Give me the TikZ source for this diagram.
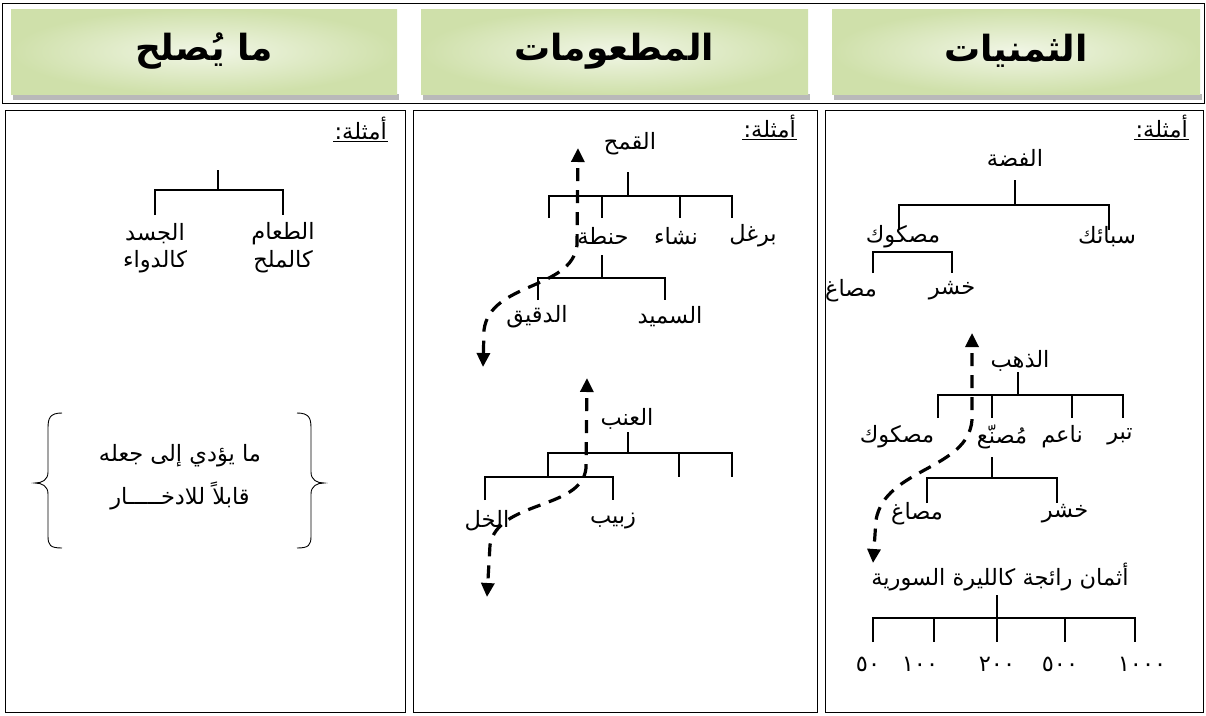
\documentclass[tikz,border=0pt]{standalone}
\usepackage{fontspec}
\usetikzlibrary{arrows.meta}
\TeXXeTstate=1
\newfontfamily\arabicfont[Script=Arabic]{DejaVu Sans}
\newcommand{\AR}[1]{\beginR #1\endR}
\definecolor{hdrL}{HTML}{F1F6E6}
\definecolor{hdrD}{HTML}{CFE0AA}
\tikzset{
  lbl/.style={font=\arabicfont\fontsize{22.5}{27}\selectfont, inner sep=1pt},
  hdr/.style={font=\arabicfont\bfseries\fontsize{36}{40}\selectfont},
  tree/.style={line width=1.2pt},
  panel/.style={draw, line width=1pt},
  dasharrow/.style={line width=3.2pt, dash pattern=on 13pt off 9pt, dash phase=15pt,
    {Triangle[width=13pt,length=14pt]}-{Triangle[width=13pt,length=14pt]}},
  brace/.style={line width=0.9pt}
}
\begin{document}
\begin{tikzpicture}[x=1pt,y=-1pt]
\useasboundingbox (0,0) rectangle (1206,715);
\fill[white] (0,0) rectangle (1206,715);
% header frame
\draw[line width=1pt] (2,3) rectangle (1204,103);
\foreach \a/\b in {11/397,421/808,832/1200}{
  \fill[gray!55] (\a+2,94) rectangle (\b+2,100);
  \shade[inner color=hdrL, outer color=hdrD] (\a,9) rectangle (\b,94);
}
\node[hdr] (h1) at (204,51) {\AR{ما يُصلح}};
\node[hdr] (h2) at (614,51) {\AR{المطعومات}};
\node[hdr] (h3) at (1016,51) {\AR{الثمنيات}};
% panels
\draw[panel] (5,110) rectangle (405,712);
\draw[panel] (413,110) rectangle (817,712);
\draw[panel] (825,110) rectangle (1203,712);

% ===== right panel =====
\node[lbl, anchor=east] (ex3) at (1189,127) {\AR{أمثلة:}};
\draw[line width=1.2pt] (ex3.south west) -- (ex3.south east);
\node[lbl] (fidda) at (1015,158) {\AR{الفضة}};
\draw[tree] (1015,180) -- (1015,205);
\draw[tree] (899,230) |- (1109,205) -- (1109,230);
\node[lbl] (maskuk1) at (903,237) {\AR{مصكوك}};
\node[lbl] (sabaik) at (1107,237) {\AR{سبائك}};
\draw[tree] (873,273) |- (952,252) -- (952,273);
\node[lbl] (musagh1) at (851,291) {\AR{مصاغ}};
\node[lbl] (khushr1) at (952,291) {\AR{خشر}};

\node[lbl] (dhahab) at (1020,361) {\AR{الذهب}};
\draw[tree] (1018,372) -- (1018,395);
\draw[tree] (938,418) |- (1123,395) -- (1123,418);
\draw[tree] (992,395) -- (992,418);
\draw[tree] (1072,395) -- (1072,418);
\node[lbl] (maskuk2) at (897,437) {\AR{مصكوك}};
\node[lbl] (musanna) at (1002,437) {\AR{مُصنّع}};
\node[lbl] (naim) at (1062,437) {\AR{ناعم}};
\node[lbl] (tibr) at (1120,437) {\AR{تبر}};
\draw[tree] (992,457) -- (992,478);
\draw[tree] (927,503) |- (1057,478) -- (1057,503);
\node[lbl] (musagh2) at (917,514) {\AR{مصاغ}};
\node[lbl] (khushr2) at (1065,514) {\AR{خشر}};
\node[lbl] (athman) at (1000,577) {\AR{أثمان رائجة كالليرة السورية}};
\draw[tree] (997,595) -- (997,618);
\draw[tree] (873,642) |- (1135,618) -- (1135,642);
\foreach \x in {934,997,1065} \draw[tree] (\x,618) -- (\x,642);
\node[lbl] (n50) at (868,664) {٥٠};
\node[lbl] (n100) at (920,664) {١٠٠};
\node[lbl] (n200) at (997,664) {٢٠٠};
\node[lbl] (n500) at (1060,664) {٥٠٠};
\node[lbl] (n1000) at (1142,664) {١٠٠٠};
\coordinate (g1top) at (972,333);
\coordinate (g1bot) at (873,563);
\draw[dasharrow] (g1top) -- (972,420) .. controls (968,470) and (885,468) .. (876,520) -- (g1bot);

% ===== middle panel =====
\node[lbl, anchor=east] (ex2) at (797,127) {\AR{أمثلة:}};
\draw[line width=1.2pt] (ex2.south west) -- (ex2.south east);
\node[lbl] (qamh) at (630,144) {\AR{القمح}};
\draw[tree] (628,172) -- (628,196);
\draw[tree] (549,218) |- (732,196) -- (732,218);
\draw[tree] (602,196) -- (602,218);
\draw[tree] (680,196) -- (680,218);
\node[lbl] (hinta) at (603,236) {\AR{حنطة}};
\node[lbl] (nasha) at (676,236) {\AR{نشاء}};
\node[lbl] (burghul) at (753,236) {\AR{برغل}};
\draw[tree] (602,255) -- (602,278);
\draw[tree] (538,300) |- (665,278) -- (665,300);
\node[lbl] (daqiq) at (537,317) {\AR{الدقيق}};
\node[lbl] (samid) at (670,317) {\AR{السميد}};
\coordinate (w1top) at (578,148);
\coordinate (w1bot) at (483,367);
\draw[dasharrow] (w1top) -- (577,245) .. controls (572,290) and (490,282) .. (484,330) -- (w1bot);

\node[lbl] (inab) at (627,419) {\AR{العنب}};
\draw[tree] (628,432) -- (628,453);
\draw[tree] (548,477) |- (732,453) -- (732,477);
\draw[tree] (679,453) -- (679,477);
\draw[tree] (485,500) |- (613,477) -- (613,500);
\node[lbl] (khall) at (487,521) {\AR{الخل}};
\node[lbl] (zabib) at (613,521) {\AR{زبيب}};
\coordinate (w2top) at (587,378);
\coordinate (w2bot) at (487,597);
\draw[dasharrow] (w2top) -- (586,468) .. controls (582,510) and (498,500) .. (490,545) -- (w2bot);

% ===== left panel =====
\node[lbl, anchor=east] (ex1) at (388,129) {\AR{أمثلة:}};
\draw[line width=1.2pt] (ex1.south west) -- (ex1.south east);
\draw[tree] (218,170) -- (218,190);
\draw[tree] (155,215) |- (283,190) -- (283,215);
\node[lbl] (taam) at (283,234) {\AR{الطعام}};
\node[lbl] (milh) at (283,262) {\AR{كالملح}};
\node[lbl] (jasad) at (155,234) {\AR{الجسد}};
\node[lbl] (dawa) at (155,262) {\AR{كالدواء}};
\node[lbl] (t1) at (180,456) {\AR{ما يؤدي إلى جعله}};
\node[lbl] (t2) at (180,496) {\AR{قابلاً للادخـــــار}};
\draw[brace] (62,413) .. controls (50,413) and (48,418) .. (48,428) -- (48,472)
  .. controls (48,480) and (42,483) .. (35,483)
  .. controls (42,483) and (48,486) .. (48,494) -- (48,536)
  .. controls (48,545) and (50,548) .. (62,548);
\draw[brace] (297,413) .. controls (309,413) and (311,418) .. (311,428) -- (311,472)
  .. controls (311,480) and (317,483) .. (324,483)
  .. controls (317,483) and (311,486) .. (311,494) -- (311,536)
  .. controls (311,545) and (309,548) .. (297,548);
\end{tikzpicture}
\end{document}
